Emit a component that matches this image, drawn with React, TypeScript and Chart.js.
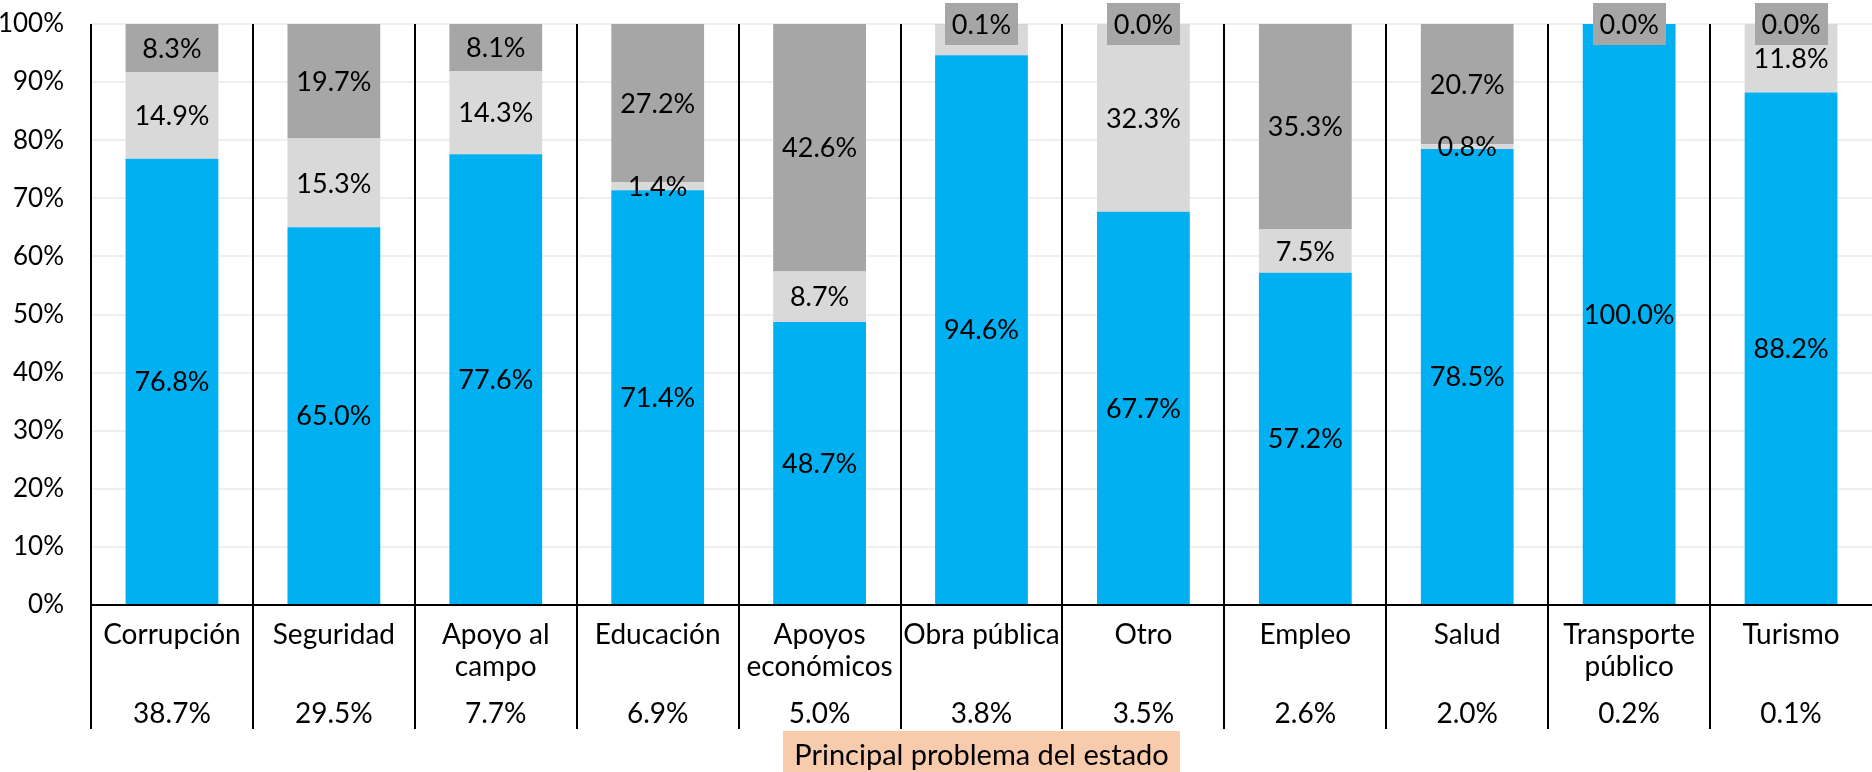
import { useEffect, useRef } from 'react';
import { Chart, registerables } from 'chart.js';

Chart.register(...registerables);

// ---------------- data ----------------
const categories: string[][] = [
  ['Corrupción'],
  ['Seguridad'],
  ['Apoyo al', 'campo'],
  ['Educación'],
  ['Apoyos', 'económicos'],
  ['Obra pública'],
  ['Otro'],
  ['Empleo'],
  ['Salud'],
  ['Transporte', 'público'],
  ['Turismo'],
];
const shares: string[] = ['38.7%', '29.5%', '7.7%', '6.9%', '5.0%', '3.8%', '3.5%', '2.6%', '2.0%', '0.2%', '0.1%'];

const serieAzul: number[] = [76.8, 65.0, 77.6, 71.4, 48.7, 94.6, 67.7, 57.2, 78.5, 100.0, 88.2];
const serieGrisClaro: (number | null)[] = [14.9, 15.3, 14.3, 1.4, 8.7, 5.3, 32.3, 7.5, 0.8, null, 11.8];
const serieGrisOscuro: number[] = [8.3, 19.7, 8.1, 27.2, 42.6, 0.1, 0.0, 35.3, 20.7, 0.0, 0.0];
// labels not shown in the original (dataset index, category index)
const hiddenLabels: [number, number][] = [[1, 5]];

const yTicks: number[] = [0, 10, 20, 30, 40, 50, 60, 70, 80, 90, 100];
const axisTitle = 'Principal problema del estado';

// ---------------- style ----------------
const FONT = 'Lato, "Open Sans", sans-serif';
const C_BLUE = '#00B0F0';
const C_LIGHT = '#D9D9D9';
const C_DARK = '#A6A6A6';
const C_TITLE_BG = '#F8CBAD';

const labelsPlugin = {
  id: 'segLabels',
  afterDatasetsDraw(chart: any) {
    const ctx = chart.ctx;
    ctx.save();
    ctx.font = `27px ${FONT}`;
    ctx.textAlign = 'center';
    ctx.textBaseline = 'middle';
    chart.data.datasets.forEach((ds: any, di: number) => {
      const meta = chart.getDatasetMeta(di);
      meta.data.forEach((el: any, i: number) => {
        const v = ds.data[i];
        if (v === null || v === undefined) return;
        if (hiddenLabels.some(([a, b]) => a === di && b === i)) return;
        const txt = v.toFixed(1) + '%';
        const x = el.x;
        const y = (el.y + el.base) / 2;
        const h = 42;
        if (di === 2 && Math.abs(el.base - el.y) < h) {
          const w = Math.round(ctx.measureText(txt).width + 14);
          ctx.fillStyle = C_DARK;
          ctx.fillRect(Math.round(x - w / 2), Math.round(y - h / 2), w, h);
        }
        ctx.fillStyle = '#000';
        ctx.fillText(txt, x, y + 1);
      });
    });
    ctx.restore();
  },
};

const framePlugin = {
  id: 'frame',
  afterDraw(chart: any) {
    const ctx = chart.ctx;
    const area = chart.chartArea;
    const xs = chart.scales.x;
    const n = categories.length;
    const step = (area.right - area.left) / n;
    const lineBottom = area.bottom + 124;
    ctx.save();
    ctx.strokeStyle = '#000';
    ctx.lineWidth = 2;
    ctx.beginPath();
    for (let i = 0; i < n; i++) {
      const x = Math.round(area.left + i * step);
      ctx.moveTo(x, area.top);
      ctx.lineTo(x, lineBottom);
    }
    ctx.moveTo(area.left, area.bottom);
    ctx.lineTo(area.right, area.bottom);
    ctx.stroke();

    ctx.fillStyle = '#000';
    ctx.textAlign = 'center';
    ctx.textBaseline = 'middle';
    ctx.font = `28px ${FONT}`;
    categories.forEach((lines, i) => {
      const cx = xs.getPixelForValue(i);
      lines.forEach((ln, k) => {
        ctx.fillText(ln, cx, area.bottom + 30 + k * 32);
      });
      ctx.fillText(shares[i], cx, area.bottom + 109);
    });

    // axis title
    ctx.font = `29px ${FONT}`;
    const tw = ctx.measureText(axisTitle).width;
    const cx = (area.left + area.right) / 2;
    const bw = tw + 22;
    ctx.fillStyle = C_TITLE_BG;
    ctx.fillRect(Math.round(cx - bw / 2), area.bottom + 126, Math.round(bw), 60);
    ctx.fillStyle = '#000';
    ctx.fillText(axisTitle, cx, area.bottom + 151);
    ctx.restore();
  },
};

export default function App() {
  const ref = useRef<HTMLCanvasElement | null>(null);

  useEffect(() => {
    document.body.style.margin = '0';
    if (!ref.current) return;
    const chart = new Chart(ref.current, {
      type: 'bar',
      data: {
        labels: categories.map((c) => c.join(' ')),
        datasets: [
          { label: 'A', data: serieAzul, backgroundColor: C_BLUE },
          { label: 'B', data: serieGrisClaro as any, backgroundColor: C_LIGHT },
          { label: 'C', data: serieGrisOscuro, backgroundColor: C_DARK },
        ],
      },
      options: {
        responsive: false,
        animation: false,
        devicePixelRatio: 1,
        layout: { padding: { top: 24, bottom: 167, left: 0, right: 0 } },
        datasets: { bar: { categoryPercentage: 1, barPercentage: 0.573 } },
        plugins: { legend: { display: false }, tooltip: { enabled: false } },
        scales: {
          x: {
            stacked: true,
            display: false,
          },
          y: {
            stacked: true,
            min: 0,
            max: 100,
            afterFit: (s: any) => {
              s.width = 91;
              s.paddingTop = 0;
              s.paddingBottom = 0;
            },
            afterBuildTicks: (s: any) => {
              s.ticks = yTicks.map((v) => ({ value: v }));
            },
            border: { display: false },
            grid: { color: '#EFEFEF', lineWidth: 2, drawTicks: false },
            ticks: {
              padding: 27,
              color: '#000',
              font: { family: FONT, size: 26 },
              callback: (v: any) => v + '%',
            },
          },
        },
      },
      plugins: [labelsPlugin, framePlugin],
    });
    return () => chart.destroy();
  }, []);

  return (
    <div style={{ width: 1872, height: 772 }}>
      <canvas ref={ref} width={1872} height={772} />
    </div>
  );
}
